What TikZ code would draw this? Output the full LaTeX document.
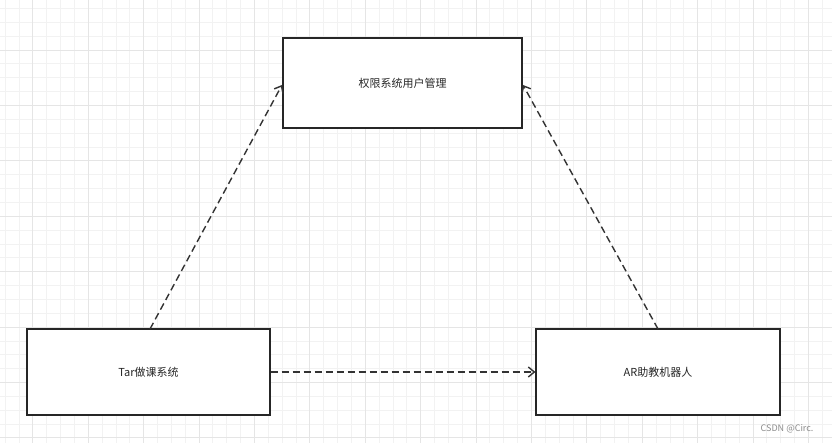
\documentclass[tikz,border=0pt]{standalone}
\usepackage{fontspec}
\setmainfont{Noto Sans CJK SC}
\usetikzlibrary{arrows.meta}
\begin{document}
\begin{tikzpicture}[x=1pt,y=-1pt,
  box/.style={draw=black!85,line width=1.2pt,font=\fontsize{11}{13}\selectfont,text=black!85},
  conn/.style={draw=black!80,line width=1.4pt,dash pattern=on 7pt off 4pt,-{Straight Barb[length=6pt,width=10pt]}},
  minorg/.style={draw=black!5,line width=0.6pt},
  majorg/.style={draw=black!10,line width=0.7pt}]
\useasboundingbox (0,0) rectangle (832,443);
\fill[white] (0,0) rectangle (832,443);
\foreach \i in {0,...,60} {\draw[minorg] ({5+13.85*\i},0) -- ({5+13.85*\i},443);}
\foreach \i in {0,...,32} {\draw[minorg] (0,{8.4+13.85*\i}) -- (832,{8.4+13.85*\i});}
\foreach \i in {0,...,15} {\draw[majorg] ({32.7+55.4*\i},0) -- ({32.7+55.4*\i},443);}
\foreach \i in {0,...,8} {\draw[majorg] (0,{50+55.4*\i}) -- (832,{50+55.4*\i});}
\node[box,fill=white,minimum width=239pt,minimum height=90pt] (top) at (402.5,83) {权限系统用户管理};
\node[box,fill=white,minimum width=243pt,minimum height=86pt] (left) at (148.5,372) {Tar做课系统};
\node[box,fill=white,minimum width=244pt,minimum height=86pt] (right) at (658,372) {AR助教机器人};
\coordinate (l1) at (150,329);
\coordinate (t1) at (282,85);
\coordinate (r1) at (658,329);
\coordinate (t2) at (523,85);
\draw[conn] (l1) -- (t1);
\draw[conn] (r1) -- (t2);
\draw[conn] (left.east) -- (right.west);
\node[text=black!45,font=\fontsize{9}{11}\selectfont,anchor=east] (wm) at (817,429) {CSDN @Circ.};
\end{tikzpicture}
\end{document}
